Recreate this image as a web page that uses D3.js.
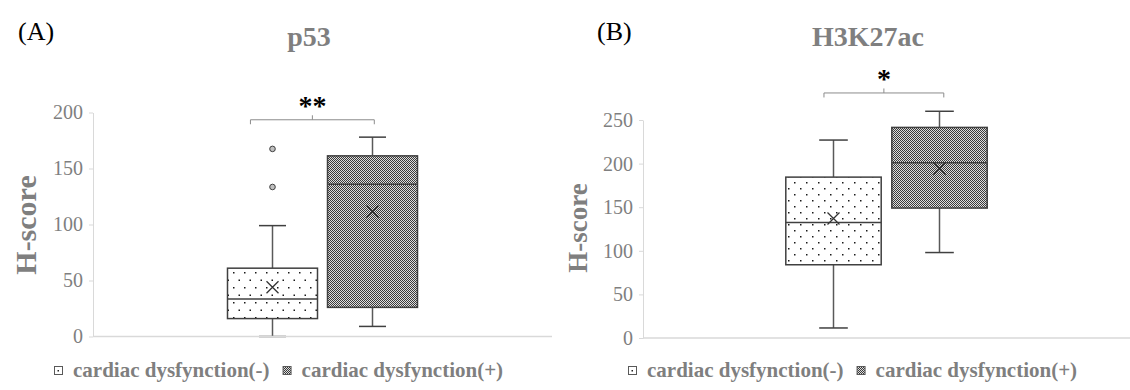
<!DOCTYPE html>
<html><head><meta charset="utf-8">
<script src="https://cdn.jsdelivr.net/npm/d3@7"></script>
<style>body{margin:0;background:#fff} svg{display:block}</style>
</head><body><svg id="chart" width="1130" height="390"></svg>
<script>
// ---- data ----
const series = ["cardiac dysfynction(-)", "cardiac dysfynction(+)"];
const category = ["H-score"];

const p53Min    = [0, 9];
const p53Q1     = [16, 26];
const p53Median = [33.5, 136];
const p53Q3     = [61, 161.3];
const p53Max    = [99, 178];
const p53Mean   = [44, 111.5];
const p53Outliers = [[167.5, 133.5], []];
const p53Ticks  = [0, 50, 100, 150, 200];

const h3Min    = [11.5, 98];
const h3Q1     = [84, 149];
const h3Median = [132.5, 201];
const h3Q3     = [184.5, 241.5];
const h3Max    = [227, 260];
const h3Mean   = [137, 194];
const h3Outliers = [[], []];
const h3Ticks  = [0, 50, 100, 150, 200, 250];

const panelLabels = ["(A)", "(B)"];
const panelTitles = ["p53", "H3K27ac"];
const sigLabels   = ["**", "*"];
const sigLevels   = [193.5, 281];   // bracket height in data units

// ---- layout ----
const panels = [
  {label: panelLabels[0], title: panelTitles[0], sig: sigLabels[0], sigY: sigLevels[0],
   min: p53Min, q1: p53Q1, med: p53Median, q3: p53Q3, max: p53Max, mean: p53Mean, out: p53Outliers, ticks: p53Ticks,
   left: 93, right: 552, top: 112.5, bottom: 336.5, group: 200, labelX: 18, titleX: 309, yLabX: 36, yLabY: 225, yLabSize: 30,
   brL: -0.245, brR: 0.02, sigDy: -20, dot: [11, 15], legendX: 54},
  {label: panelLabels[1], title: panelTitles[1], sig: sigLabels[1], sigY: sigLevels[1],
   min: h3Min, q1: h3Q1, med: h3Median, q3: h3Q3, max: h3Max, mean: h3Mean, out: h3Outliers, ticks: h3Ticks,
   left: 643, right: 1130, top: 120, bottom: 338, group: 212, labelX: 597, titleX: 868, yLabX: 587, yLabY: 228, yLabSize: 27,
   brL: -0.1, brR: 0.045, sigDy: -20, dot: [12, 12], legendX: 628}
];

const svg = d3.select("#chart");
const defs = svg.append("defs");
const serif = "'Liberation Serif','Times New Roman',serif";
const grayText = "#7f7f7f";

// checker pattern
const chk = defs.append("pattern").attr("id", "chk").attr("patternUnits", "userSpaceOnUse")
  .attr("width", 2).attr("height", 2);
chk.append("rect").attr("width", 2).attr("height", 2).attr("fill", "#dedede");
chk.append("rect").attr("width", 1).attr("height", 1).attr("fill", "#3a3a3a");
chk.append("rect").attr("x", 1).attr("y", 1).attr("width", 1).attr("height", 1).attr("fill", "#3a3a3a");

panels.forEach((p, pi) => {
  const [dw, dh] = p.dot;
  const dp = defs.append("pattern").attr("id", "dots" + pi).attr("patternUnits", "userSpaceOnUse")
    .attr("width", dw).attr("height", dh);
  dp.append("rect").attr("width", dw).attr("height", dh).attr("fill", "#fff");
  dp.append("rect").attr("x", 2).attr("y", 2).attr("width", 1.5).attr("height", 1.5).attr("fill", "#1a1a1a");
  dp.append("rect").attr("x", 2 + dw / 2).attr("y", 2 + dh / 2).attr("width", 1.5).attr("height", 1.5).attr("fill", "#1a1a1a");
});
const fills = pi => ["url(#dots" + pi + ")", "url(#chk)"];

panels.forEach((p, pi) => {
  const g = svg.append("g");
  const y = d3.scaleLinear().domain([0, d3.max(p.ticks)]).range([p.bottom, p.top]);
  const width = p.right - p.left;
  const po = (width / p.group - 1) / 2;
  const x0 = d3.scaleBand().domain(category).range([p.left, p.right]).paddingInner(0).paddingOuter(po);
  const x1 = d3.scaleBand().domain(series).range([0, x0.bandwidth()]).paddingInner(0.1).paddingOuter(0.05);
  const bw = x1.bandwidth();
  const cx = i => x0(category[0]) + x1(series[i]) + bw / 2;

  // boxes
  series.forEach((s, i) => {
    const c = cx(i);
    const cap = bw * 0.15;
    g.append("line").attr("x1", c).attr("x2", c).attr("y1", y(p.max[i])).attr("y2", y(p.q3[i]))
      .attr("stroke", "#595959").attr("stroke-width", 1.5);
    g.append("line").attr("x1", c).attr("x2", c).attr("y1", y(p.q1[i])).attr("y2", y(p.min[i]))
      .attr("stroke", "#595959").attr("stroke-width", 1.5);
    g.append("line").attr("x1", c - cap).attr("x2", c + cap).attr("y1", y(p.max[i])).attr("y2", y(p.max[i]))
      .attr("stroke", "#404040").attr("stroke-width", 1.5);
    g.append("line").attr("x1", c - cap).attr("x2", c + cap).attr("y1", y(p.min[i])).attr("y2", y(p.min[i]))
      .attr("stroke", "#404040").attr("stroke-width", 1.5);
    g.append("rect").attr("x", c - bw / 2).attr("width", bw)
      .attr("y", y(p.q3[i])).attr("height", y(p.q1[i]) - y(p.q3[i]))
      .attr("fill", fills(pi)[i]).attr("stroke", "#404040").attr("stroke-width", 1.5);
    g.append("line").attr("x1", c - bw / 2).attr("x2", c + bw / 2).attr("y1", y(p.med[i])).attr("y2", y(p.med[i]))
      .attr("stroke", "#404040").attr("stroke-width", 1.5);
    const m = 6, my = y(p.mean[i]);
    g.append("path").attr("d", `M${c - m},${my - m}L${c + m},${my + m}M${c - m},${my + m}L${c + m},${my - m}`)
      .attr("stroke", "#333").attr("stroke-width", 1.3).attr("fill", "none");
    p.out[i].forEach(v => {
      g.append("circle").attr("cx", c).attr("cy", y(v)).attr("r", 2.8)
        .attr("fill", "#bfbfbf").attr("stroke", "#404040").attr("stroke-width", 1);
    });
  });

  // axes (on top)
  const yAxis = d3.axisLeft(y).tickValues(p.ticks).tickSize(4).tickSizeOuter(0).tickPadding(6);
  const ag = g.append("g").attr("transform", `translate(${p.left},0)`).call(yAxis);
  ag.select(".domain").attr("stroke", "#d9d9d9");
  ag.selectAll(".tick line").attr("stroke", "#d9d9d9");
  ag.selectAll(".tick text").attr("fill", grayText).style("font-family", serif).style("font-size", "20px");
  g.append("line").attr("x1", p.left).attr("x2", p.right).attr("y1", y(0)).attr("y2", y(0))
    .attr("stroke", "#d9d9d9").attr("stroke-width", 1.5);

  // y label
  g.append("text").attr("transform", `translate(${p.yLabX},${p.yLabY}) rotate(-90)`)
    .attr("text-anchor", "middle").attr("fill", grayText)
    .style("font-family", serif).style("font-weight", "bold").style("font-size", p.yLabSize + "px")
    .text(category[0]);

  // significance bracket
  const bx1 = cx(0) + p.brL * bw, bx2 = cx(1) + p.brR * bw, by = y(p.sigY), bm = (bx1 + bx2) / 2;
  g.append("path").attr("d", `M${bx1},${by + 4.5}L${bx1},${by}L${bx2},${by}L${bx2},${by + 4.5}M${bm},${by}L${bm},${by - 4.5}`)
    .attr("fill", "none").attr("stroke", "#8c8c8c").attr("stroke-width", 1);
  g.append("text").attr("x", bm).attr("y", by + p.sigDy + 15).attr("text-anchor", "middle")
    .attr("fill", "#000").style("font-family", serif).style("font-weight", "bold").style("font-size", "28px")
    .text(p.sig);

  // titles
  g.append("text").attr("x", p.labelX).attr("y", 40).attr("fill", "#000")
    .style("font-family", serif).style("font-size", "26px").text(p.label);
  g.append("text").attr("x", p.titleX).attr("y", 46).attr("text-anchor", "middle").attr("fill", grayText)
    .style("font-family", serif).style("font-weight", "bold").style("font-size", "28px").text(p.title);

  // legend
  let lx = p.legendX;
  const ly = 377;
  series.forEach((s, i) => {
    g.append("rect").attr("x", lx + 0.5).attr("y", ly - 10.5).attr("width", 8).attr("height", 8)
      .attr("fill", i === 0 ? "#fff" : "url(#chk)").attr("stroke", "#595959").attr("stroke-width", 1);
    if (i === 0) g.append("rect").attr("x", lx + 3.5).attr("y", ly - 7).attr("width", 1.5).attr("height", 1.5).attr("fill", "#222");
    const t = g.append("text").attr("x", lx + 19).attr("y", ly).attr("fill", grayText)
      .style("font-family", serif).style("font-weight", "bold").style("font-size", "21px").text(s);
    lx = lx + 19 + t.node().getComputedTextLength() + 13;
  });
});
</script></body></html>
